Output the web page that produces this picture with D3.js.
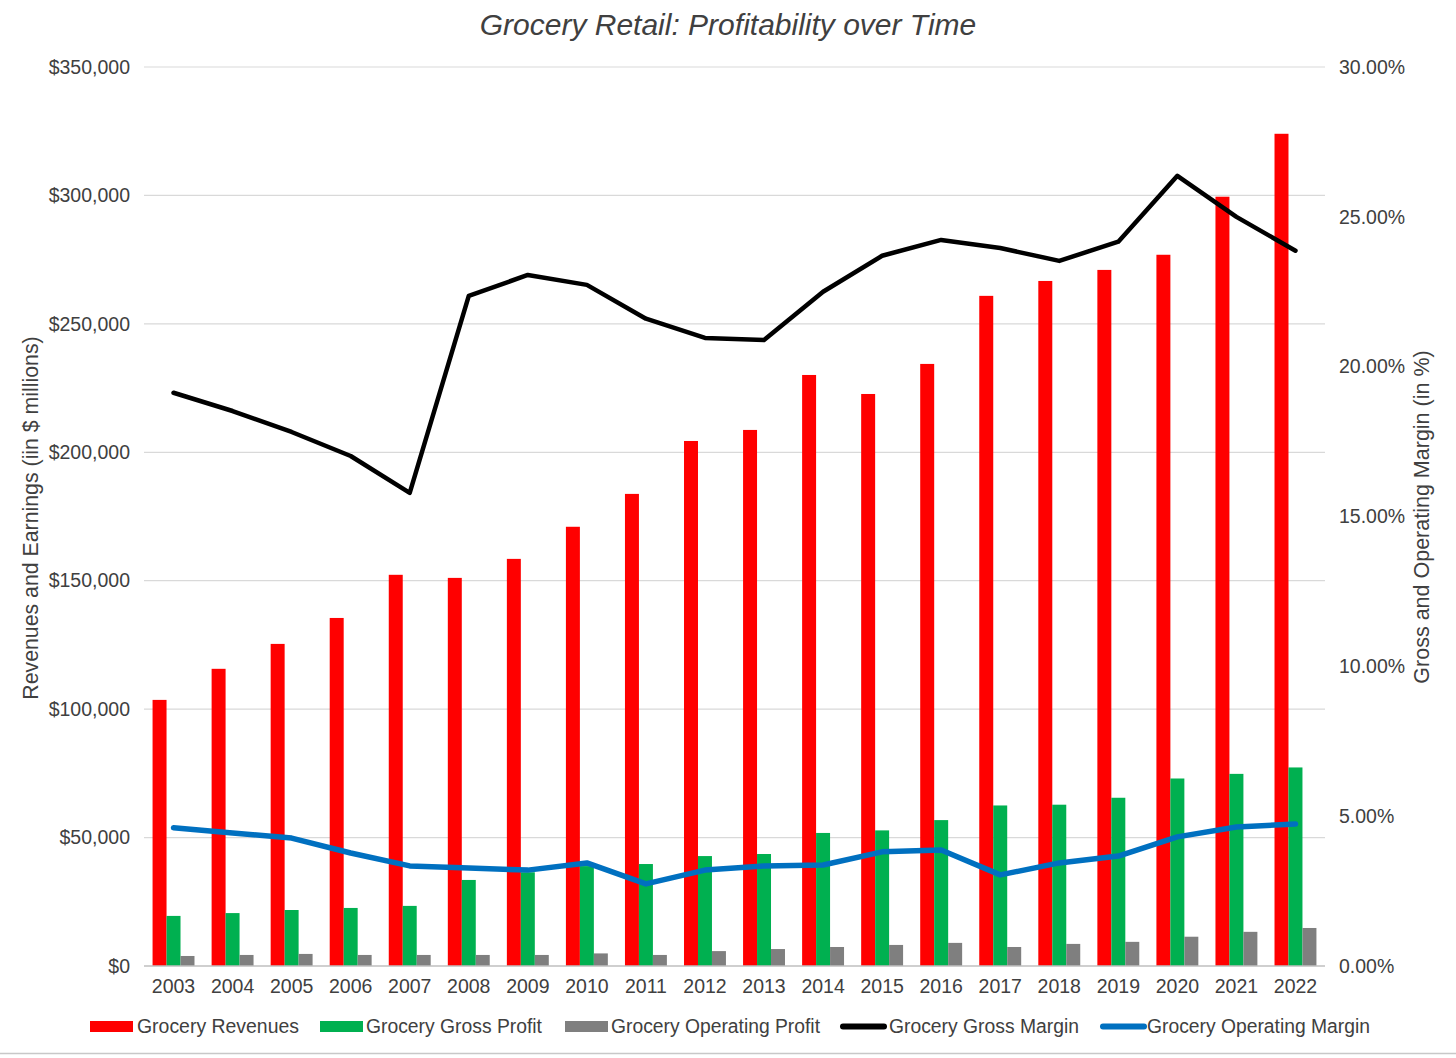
<!DOCTYPE html>
<html><head><meta charset="utf-8">
<script src="https://cdn.jsdelivr.net/npm/d3@7"></script>
<style>
html,body{margin:0;padding:0;background:#fff;}
svg{display:block;}
text{font-family:"Helvetica Neue",Helvetica,"Liberation Sans",Arial,sans-serif;fill:#404040;}
</style></head>
<body>
<svg id="chart" width="1456" height="1058"></svg>
<script>
const years = ["2003","2004","2005","2006","2007","2008","2009","2010","2011","2012","2013","2014","2015","2016","2017","2018","2019","2020","2021","2022"];
const revenues = [103600,115700,125400,135500,152300,151100,158500,171000,183800,204400,208700,230100,222700,234400,260900,266700,271000,276900,299500,324000];
const grossProfit = [19500,20600,21800,22600,23400,33500,36500,38900,39700,42800,43600,51800,52800,56800,62500,62800,65500,73000,74800,77300];
const operatingProfit = [3900,4300,4700,4300,4300,4300,4300,4900,4300,5800,6600,7400,8200,9000,7400,8600,9400,11400,13300,14800];
const grossMargin = [19.13,18.52,17.82,17.02,15.79,22.36,23.06,22.73,21.60,20.96,20.89,22.50,23.70,24.23,23.96,23.53,24.17,26.37,25.00,23.87];
const operatingMargin = [4.61,4.44,4.27,3.77,3.34,3.27,3.20,3.44,2.74,3.20,3.34,3.37,3.81,3.87,3.04,3.44,3.67,4.31,4.64,4.74];
const leftTicks = [0,50000,100000,150000,200000,250000,300000,350000];
const rightTicks = [0,5,10,15,20,25,30];
const barSeries = [
  {name:"Grocery Revenues", values: revenues, color:"#FF0000"},
  {name:"Grocery Gross Profit", values: grossProfit, color:"#00B050"},
  {name:"Grocery Operating Profit", values: operatingProfit, color:"#7F7F7F"}
];
const lineSeries = [
  {name:"Grocery Gross Margin", values: grossMargin, color:"#000000", w:4.5},
  {name:"Grocery Operating Margin", values: operatingMargin, color:"#0070C0", w:5.5}
];

const svg = d3.select("#chart");
const L = 144, R = 1325, T = 67, B = 966;
const FF = "\"Helvetica Neue\",Helvetica,\"Liberation Sans\",Arial,sans-serif";

const x = d3.scaleBand().domain(years).range([L, R]).paddingInner(0.29).paddingOuter(0.145);
const xs = d3.scaleBand().domain(barSeries.map(d=>d.name)).range([0, x.bandwidth()]);
const yL = d3.scaleLinear().domain([0, 350000]).range([B, T]);
const yR = d3.scaleLinear().domain([0, 30]).range([B, T]);

// gridlines
svg.append("g").selectAll("line").data(leftTicks.filter(d=>d>0)).join("line")
  .attr("x1", L).attr("x2", R).attr("y1", d=>yL(d)).attr("y2", d=>yL(d))
  .attr("stroke", "#D9D9D9").attr("stroke-width", 1.2);

// bars
const g = svg.append("g");
barSeries.forEach(s => {
  g.append("g").selectAll("rect").data(years).join("rect")
    .attr("x", (d)=> x(d) + xs(s.name))
    .attr("width", xs.bandwidth())
    .attr("y", (d,i)=> yL(s.values[i]))
    .attr("height", (d,i)=> yL(0) - yL(s.values[i]))
    .attr("fill", s.color);
});

// baseline
svg.append("line").attr("x1", L).attr("x2", R).attr("y1", yL(0)).attr("y2", yL(0))
  .attr("stroke", "#BFBFBF").attr("stroke-width", 1.5);

// lines
lineSeries.forEach(s => {
  const line = d3.line().x((d,i)=> x(years[i]) + x.bandwidth()/2).y(d=> yR(d));
  svg.append("path").datum(s.values).attr("d", line)
    .attr("fill","none").attr("stroke", s.color).attr("stroke-width", s.w)
    .attr("stroke-linejoin","round").attr("stroke-linecap","round");
});

// left axis
const fmtL = d => "$" + d3.format(",")(d);
const axL = d3.axisLeft(yL).tickValues(leftTicks).tickFormat(fmtL).tickSize(0).tickPadding(0);
const gL = svg.append("g").attr("transform", `translate(130,0)`).call(axL);
gL.select(".domain").remove();
gL.selectAll("text").attr("font-size", 19.5).attr("fill","#404040").style("font-family", FF);

// right axis
const axR = d3.axisRight(yR).tickValues(rightTicks).tickFormat(d=> d.toFixed(2) + "%").tickSize(0).tickPadding(0);
const gR = svg.append("g").attr("transform", `translate(1339,0)`).call(axR);
gR.select(".domain").remove();
gR.selectAll("text").attr("font-size", 19.5).attr("fill","#404040").style("font-family", FF);

// bottom axis
const axB = d3.axisBottom(x).tickSize(0).tickPadding(0);
const gB = svg.append("g").attr("transform", `translate(0,${B+13})`).call(axB);
gB.select(".domain").remove();
gB.selectAll("text").attr("font-size", 19.5).attr("fill","#404040").attr("dy","0.71em").style("font-family", FF);

// title
svg.append("text").attr("x", 728).attr("y", 35).attr("text-anchor","middle")
  .attr("font-size", 30).attr("font-style","italic").attr("fill","#595959")
  .text("Grocery Retail: Profitability over Time");

// axis titles
svg.append("text").attr("transform", `translate(38,518) rotate(-90)`).attr("text-anchor","middle")
  .attr("font-size", 21.3).attr("fill","#404040").text("Revenues and Earnings (iin $ millions)");
svg.append("text").attr("transform", `translate(1429,517) rotate(-90)`).attr("text-anchor","middle")
  .attr("font-size", 21.5).attr("fill","#404040").text("Gross and Operating Margin (in %)");

// legend
const legendItems = [
  {s: barSeries[0], type:"bar", x:90, tx:137, tw:162},
  {s: barSeries[1], type:"bar", x:320, tx:366, tw:176},
  {s: barSeries[2], type:"bar", x:565, tx:611, tw:209},
  {s: lineSeries[0], type:"line", x:840, tx:889, tw:190},
  {s: lineSeries[1], type:"line", x:1100, tx:1147, tw:223}
];
const lg = svg.append("g");
legendItems.forEach(it => {
  if (it.type === "bar") {
    lg.append("rect").attr("x", it.x).attr("y", 1021).attr("width", 43).attr("height", 11).attr("fill", it.s.color);
  } else {
    lg.append("line").attr("x1", it.x+3).attr("x2", it.x+44).attr("y1", 1026.5).attr("y2", 1026.5)
      .attr("stroke", it.s.color).attr("stroke-width", 6).attr("stroke-linecap","round");
  }
  lg.append("text").attr("x", it.tx).attr("y", 1033).attr("font-size", 20)
    .attr("fill","#404040")
    .attr("textLength", it.tw).attr("lengthAdjust","spacingAndGlyphs")
    .style("font-family", FF)
    .text(it.s.name);
});

// frame bottom line
svg.append("line").attr("x1",0).attr("x2",1456).attr("y1",1053.5).attr("y2",1053.5).attr("stroke","#C8C8C8").attr("stroke-width",1.5);
</script>
</body></html>
